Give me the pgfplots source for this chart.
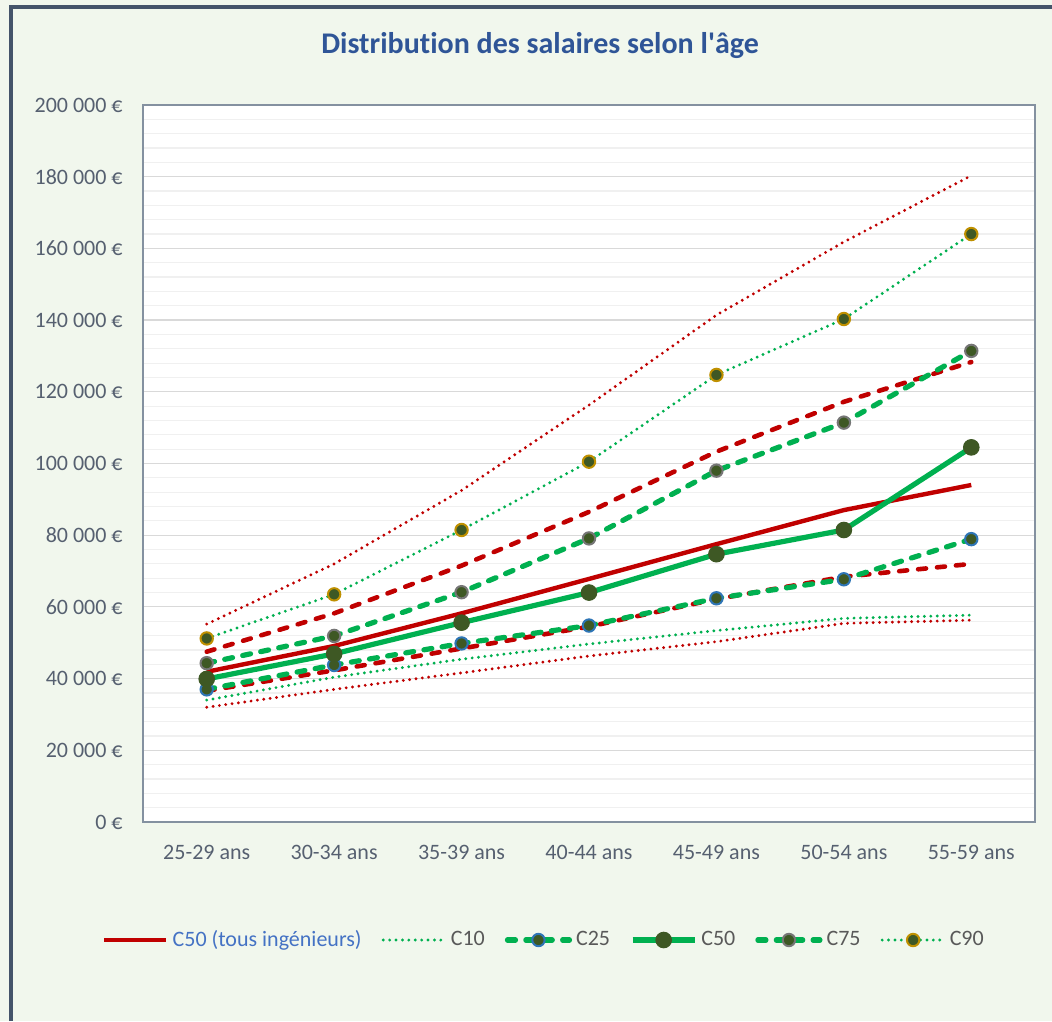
\documentclass[border=0pt]{standalone}
\usepackage{fontspec}
\setmainfont{Carlito}[Ligatures={TeX,NoCommon}]
\usepackage{pgfplots}
\pgfplotsset{compat=1.18}

\definecolor{bg}{RGB}{241,247,237}
\definecolor{frame}{RGB}{68,84,106}
\definecolor{red1}{RGB}{192,0,0}
\definecolor{grn}{RGB}{0,176,80}
\definecolor{mfill}{RGB}{62,88,36}
\definecolor{c25edge}{RGB}{46,117,182}
\definecolor{c75edge}{RGB}{118,118,118}
\definecolor{c90edge}{RGB}{191,144,0}
\definecolor{ticktext}{RGB}{86,96,112}
\definecolor{titleblue}{RGB}{47,85,151}
\definecolor{legblue}{RGB}{68,114,196}
\definecolor{leggrey}{RGB}{89,89,89}
\definecolor{majgrid}{RGB}{217,217,217}
\definecolor{mingrid}{RGB}{240,240,240}
\definecolor{axframe}{RGB}{132,145,160}

\begin{document}
\begin{tikzpicture}[x=0.5pt,y=0.5pt]
\fill[bg] (0,0) rectangle (1052,1021);
\useasboundingbox (0,0) rectangle (1052,1021);
\draw[frame, line width=1.6pt] (11,0) -- (11,1014) -- (1052,1014);
\node[font=\fontsize{15}{18}\selectfont\bfseries, text=titleblue, anchor=base] at (540,967) {Distribution des salaires selon l\textquotesingle âge};
\begin{axis}[
  at={(71.5pt,99.5pt)}, anchor=south west,
  scale only axis, width=446pt, height=358.5pt,
  xmin=-0.5, xmax=6.5, ymin=0, ymax=200000,
  xtick={0,1,2,3,4,5,6},
  xticklabels={25-29 ans,30-34 ans,35-39 ans,40-44 ans,45-49 ans,50-54 ans,55-59 ans},
  ytick={0,20000,40000,60000,80000,100000,120000,140000,160000,180000,200000},
  yticklabels={0 €,20 000 €,40 000 €,60 000 €,80 000 €,100 000 €,120 000 €,140 000 €,160 000 €,180 000 €,200 000 €},
  minor y tick num=4,
  ymajorgrids, yminorgrids,
  major grid style={majgrid, line width=0.6pt},
  minor grid style={mingrid, line width=0.6pt},
  major tick length=0pt, minor tick length=0pt,
  axis line style={axframe, line width=0.7pt},
  axis background/.style={fill=white},
  tick label style={font=\fontsize{11}{13}\selectfont, text=ticktext},
  yticklabel style={anchor=east, inner sep=0pt, xshift=-10pt},
  xticklabel style={anchor=north, inner sep=0pt, yshift=-11.5pt},
  scaled y ticks=false,
  clip=false,
  legend columns=6,
  legend cell align=left,
  legend style={at={(0.4507,-0.1646)}, anchor=center, draw=none, fill=none,
    font=\fontsize{11}{13}\selectfont, text=leggrey,
    nodes={inner sep=2pt},
    /tikz/every even column/.append style={column sep=8pt}},
  legend image code/.code={\draw[mark repeat=2,mark phase=2,#1] plot coordinates {(0pt,0pt) (15.5pt,0pt) (31pt,0pt)};},
]
% red (all engineers)
\addplot[red1, line width=2.2pt] coordinates {(0,41900) (1,49100) (2,58200) (3,67800) (4,77500) (5,87000) (6,94000)};
\addlegendentry{\textcolor{legblue}{C50 (tous ingénieurs)}}
\addplot[forget plot, red1, line width=1.6pt, line cap=round, dash pattern=on 0pt off 3.2pt] coordinates {(0,32000) (1,37000) (2,41600) (3,46300) (4,50300) (5,55400) (6,56300)};
\addplot[forget plot, red1, line width=1.6pt, line cap=round, dash pattern=on 0pt off 3.2pt] coordinates {(0,55200) (1,72000) (2,92500) (3,116300) (4,141400) (5,161800) (6,180300)};
\addplot[forget plot, red1, line width=2.3pt, line cap=round, dash pattern=on 4pt off 5.5pt] coordinates {(0,36600) (1,42300) (2,48400) (3,54500) (4,62200) (5,68400) (6,72000)};
\addplot[forget plot, red1, line width=2.3pt, line cap=round, dash pattern=on 4pt off 5.5pt] coordinates {(0,47500) (1,58200) (2,71500) (3,86500) (4,103300) (5,117200) (6,128300)};
% green
\addplot[grn, line width=1.6pt, line cap=round, dash pattern=on 0pt off 3.2pt] coordinates {(0,34000) (1,40400) (2,45400) (3,49650) (4,53400) (5,56800) (6,57700)};
\addlegendentry{C10}
\addplot[grn, line width=2.6pt, line cap=round, dash pattern=on 4pt off 5.2pt, mark=*, mark size=3.1pt, mark options={solid, fill=mfill, draw=c25edge, line width=1pt}] coordinates {(0,37000) (1,43800) (2,49800) (3,54800) (4,62400) (5,67700) (6,78900)};
\addlegendentry{C25}
\addplot[grn, line width=2.6pt, mark=*, mark size=3.9pt, mark options={solid, fill=mfill, draw=mfill, line width=0.5pt}] coordinates {(0,39900) (1,46900) (2,55600) (3,64000) (4,74700) (5,81450) (6,104500)};
\addlegendentry{C50}
\addplot[grn, line width=2.6pt, line cap=round, dash pattern=on 4pt off 5.2pt, mark=*, mark size=3.1pt, mark options={solid, fill=mfill, draw=c75edge, line width=1pt}] coordinates {(0,44300) (1,51900) (2,64100) (3,79100) (4,98000) (5,111400) (6,131400)};
\addlegendentry{C75}
\addplot[grn, line width=1.6pt, line cap=round, dash pattern=on 0pt off 3.2pt, mark=*, mark size=3.1pt, mark options={solid, fill=mfill, draw=c90edge, line width=1pt}] coordinates {(0,51200) (1,63500) (2,81450) (3,100500) (4,124700) (5,140300) (6,164000)};
\addlegendentry{C90}
\end{axis}
\end{tikzpicture}
\end{document}
